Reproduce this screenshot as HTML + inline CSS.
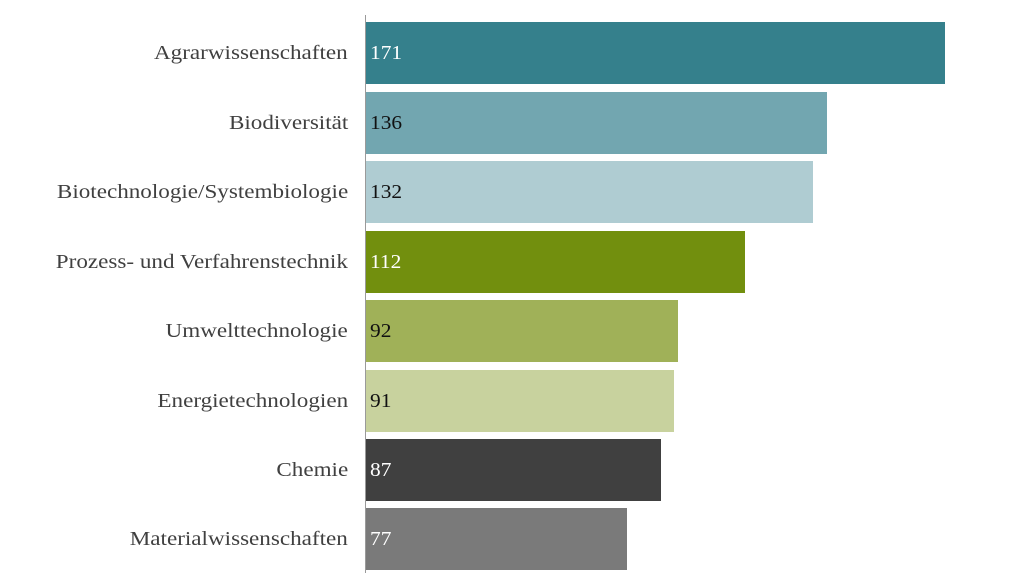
<!DOCTYPE html>
<html><head><meta charset="utf-8"><style>
body{margin:0;width:1021px;height:573px;background:#fff;position:relative;overflow:hidden;font-family:"Liberation Serif",serif;}
.ax{position:absolute;left:365px;top:15px;width:1px;height:558px;background:#9a9a9a;}
.b{position:absolute;left:366px;height:62px;}
.v{position:absolute;left:370px;font-size:20px;line-height:62px;transform:scaleX(1.07);transform-origin:left;}
.l{position:absolute;right:673px;font-size:20px;line-height:62px;color:#404040;white-space:nowrap;transform:scaleX(1.155);transform-origin:right;}
</style></head><body>
<div class="ax"></div>
<div class="b" style="top:22px;width:579px;background:#35808C"></div><div class="v" style="top:22px;color:#fff">171</div><div class="l" style="top:22px">Agrarwissenschaften</div>
<div class="b" style="top:92px;width:461px;background:#72A6B0"></div><div class="v" style="top:92px;color:#111">136</div><div class="l" style="top:92px">Biodiversität</div>
<div class="b" style="top:161px;width:447px;background:#AFCCD2"></div><div class="v" style="top:161px;color:#111">132</div><div class="l" style="top:161px">Biotechnologie/Systembiologie</div>
<div class="b" style="top:231px;width:379px;background:#728F0E"></div><div class="v" style="top:231px;color:#fff">112</div><div class="l" style="top:231px">Prozess- und Verfahrenstechnik</div>
<div class="b" style="top:300px;width:312px;background:#A0B158"></div><div class="v" style="top:300px;color:#111">92</div><div class="l" style="top:300px">Umwelttechnologie</div>
<div class="b" style="top:370px;width:308px;background:#C8D29E"></div><div class="v" style="top:370px;color:#111">91</div><div class="l" style="top:370px">Energietechnologien</div>
<div class="b" style="top:439px;width:295px;background:#404040"></div><div class="v" style="top:439px;color:#fff">87</div><div class="l" style="top:439px">Chemie</div>
<div class="b" style="top:508px;width:261px;background:#7A7A7A"></div><div class="v" style="top:508px;color:#fff">77</div><div class="l" style="top:508px">Materialwissenschaften</div>
</body></html>
